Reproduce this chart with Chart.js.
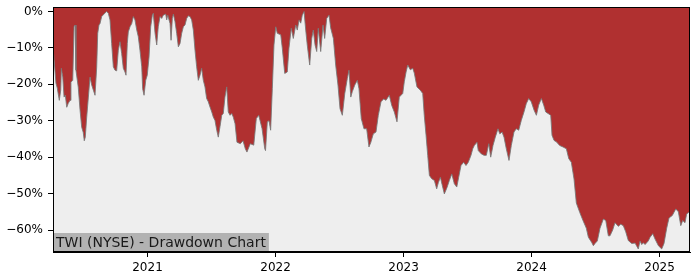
<!DOCTYPE html>
<html>
<head>
<meta charset="utf-8">
<script src="https://cdn.jsdelivr.net/npm/chart.js@4/dist/chart.umd.min.js"></script>
<style>
  html, body { margin: 0; padding: 0; background: #ffffff; }
  #wrap { width: 700px; height: 280px; position: relative; }
</style>
</head>
<body>
<div id="wrap"><canvas id="c" width="700" height="280"></canvas></div>
<script>
// Time axis as decimal years
const dates = [
2020.266,2020.285,2020.295,2020.311,2020.322,2020.327,2020.338,2020.348,2020.358,2020.369,
2020.381,2020.395,2020.402,2020.416,2020.426,2020.434,2020.441,2020.459,2020.473,2020.486,
2020.498,2020.506,2020.514,2020.525,2020.538,2020.551,2020.564,2020.577,2020.590,2020.603,
2020.611,2020.621,2020.629,2020.642,2020.660,2020.681,2020.694,2020.707,2020.720,2020.733,
2020.746,2020.759,2020.772,2020.785,2020.798,2020.811,2020.824,2020.832,2020.842,2020.850,
2020.863,2020.877,2020.889,2020.902,2020.916,2020.928,2020.941,2020.955,2020.962,2020.973,
2020.986,2020.998,2021.012,2021.025,2021.038,2021.045,2021.059,2021.072,2021.084,2021.098,
2021.111,2021.123,2021.142,2021.150,2021.158,2021.176,2021.184,2021.194,2021.202,2021.215,
2021.228,2021.241,2021.254,2021.267,2021.280,2021.293,2021.306,2021.319,2021.332,2021.345,
2021.358,2021.371,2021.384,2021.397,2021.410,2021.423,2021.436,2021.449,2021.462,2021.475,
2021.488,2021.502,2021.514,2021.527,2021.541,2021.553,2021.566,2021.580,2021.592,2021.605,
2021.619,2021.631,2021.645,2021.658,2021.670,2021.684,2021.699,2021.725,2021.746,2021.764,
2021.777,2021.803,2021.830,2021.850,2021.869,2021.895,2021.916,2021.922,2021.936,2021.949,
2021.962,2021.975,2021.988,2022.002,2022.014,2022.041,2022.053,2022.072,2022.092,2022.105,
2022.123,2022.139,2022.158,2022.170,2022.184,2022.197,2022.209,2022.223,2022.236,2022.248,
2022.267,2022.283,2022.295,2022.309,2022.322,2022.334,2022.353,2022.371,2022.384,2022.400,
2022.418,2022.431,2022.452,2022.470,2022.488,2022.504,2022.522,2022.541,2022.561,2022.574,
2022.588,2022.600,2022.619,2022.639,2022.652,2022.670,2022.691,2022.712,2022.730,2022.744,
2022.764,2022.785,2022.803,2022.824,2022.845,2022.863,2022.889,2022.908,2022.928,2022.949,
2022.967,2022.994,2023.006,2023.020,2023.033,2023.053,2023.072,2023.084,2023.105,2023.131,
2023.150,2023.162,2023.176,2023.189,2023.202,2023.220,2023.241,2023.259,2023.272,2023.288,
2023.301,2023.319,2023.340,2023.358,2023.377,2023.397,2023.416,2023.431,2023.449,2023.470,
2023.488,2023.506,2023.527,2023.541,2023.553,2023.574,2023.584,2023.608,2023.629,2023.647,
2023.666,2023.681,2023.699,2023.717,2023.738,2023.752,2023.770,2023.785,2023.803,2023.824,
2023.842,2023.863,2023.881,2023.900,2023.920,2023.941,2023.959,2023.978,2023.998,2024.020,
2024.038,2024.056,2024.077,2024.095,2024.111,2024.129,2024.150,2024.160,2024.176,2024.194,
2024.220,2024.246,2024.272,2024.291,2024.311,2024.332,2024.350,2024.377,2024.402,2024.428,
2024.444,2024.470,2024.483,2024.496,2024.514,2024.535,2024.561,2024.580,2024.600,2024.613,
2024.634,2024.652,2024.678,2024.697,2024.717,2024.736,2024.756,2024.783,2024.809,2024.834,
2024.848,2024.861,2024.873,2024.887,2024.912,2024.926,2024.947,2024.965,2024.991,2025.017,
2025.035,2025.056,2025.074,2025.100,2025.127,2025.147,2025.166,2025.181,2025.199,2025.212,
2025.234
];
// Drawdown in percent
const drawdown = [
-11.5,-19.7,-21.0,-24.4,-21.6,-15.6,-18.0,-23.5,-23.0,-26.3,
-25.2,-24.4,-19.4,-18.9,-4.2,-3.7,-16.1,-20.8,-27.1,-31.8,
-33.2,-35.5,-34.5,-29.0,-23.5,-18.0,-20.2,-21.6,-23.0,-15.3,
-6.0,-3.7,-3.3,-1.4,-0.7,0.0,-0.5,-2.3,-8.8,-15.2,
-16.1,-16.3,-10.6,-8.3,-11.5,-15.6,-16.6,-17.5,-8.8,-5.6,
-4.2,-3.3,-1.4,-2.3,-5.1,-6.9,-10.6,-15.2,-21.2,-23.0,
-18.9,-17.5,-12.5,-4.2,-1.0,-0.5,-6.0,-9.2,-4.2,-1.4,
-1.9,-1.0,-0.7,-2.3,-1.0,-3.3,-7.9,-1.9,-0.7,-2.8,
-6.0,-9.7,-8.8,-6.0,-4.2,-3.7,-1.9,-1.2,-1.4,-2.3,
-5.1,-10.6,-15.2,-18.9,-17.5,-15.6,-18.9,-20.7,-23.9,-24.8,
-26.2,-27.6,-29.0,-29.9,-32.6,-34.5,-31.7,-28.5,-28.0,-23.5,
-20.7,-27.6,-28.5,-28.0,-29.0,-30.8,-35.9,-36.3,-35.5,-37.7,
-38.6,-36.3,-36.7,-29.4,-28.5,-32.2,-37.7,-38.2,-30.3,-30.0,
-32.6,-21.2,-9.2,-4.2,-6.0,-6.4,-10.1,-17.0,-16.6,-10.1,
-4.6,-7.4,-3.7,-5.1,-2.3,-3.2,-1.0,0.0,-5.1,-9.2,
-14.7,-7.4,-5.1,-9.2,-11.0,-4.6,-11.0,-3.7,-7.4,-1.9,
-1.0,-4.5,-7.4,-14.7,-20.2,-26.7,-28.5,-22.5,-18.4,-16.1,
-23.5,-22.0,-20.2,-18.9,-21.2,-29.4,-32.2,-32.2,-37.2,-36.0,
-33.6,-33.1,-28.5,-24.8,-24.0,-24.4,-23.0,-25.8,-27.6,-30.3,
-23.5,-22.5,-19.3,-16.6,-14.7,-16.0,-15.6,-16.9,-20.7,-21.6,
-22.5,-28.5,-34.0,-39.5,-45.0,-45.9,-46.4,-48.7,-47.0,-45.5,
-47.5,-50.1,-48.3,-46.4,-44.6,-47.3,-48.2,-45.5,-42.3,-41.4,
-42.3,-41.4,-39.5,-37.7,-36.8,-35.9,-38.2,-39.1,-39.5,-39.5,
-36.3,-40.0,-36.8,-34.5,-32.2,-33.6,-33.1,-34.5,-37.7,-40.9,
-36.8,-33.1,-32.2,-32.6,-29.9,-27.6,-25.3,-23.9,-24.8,-27.1,
-28.5,-25.7,-23.9,-25.7,-27.6,-28.0,-28.5,-34.0,-35.4,-35.8,
-36.8,-37.2,-37.7,-40.4,-41.4,-46.0,-52.6,-55.2,-57.4,-59.5,
-62.0,-63.4,-64.3,-63.7,-63.0,-59.5,-57.0,-57.4,-61.6,-61.6,
-60.0,-58.0,-59.0,-58.4,-58.8,-60.5,-62.9,-63.7,-63.6,-65.2,
-63.0,-64.0,-63.5,-64.0,-63.0,-62.0,-61.0,-62.5,-64.3,-65.2,
-63.7,-59.5,-56.7,-56.0,-54.2,-55.0,-58.8,-57.4,-58.0,-55.6,
-55.0
];
const yearTicks = [2021, 2022, 2023, 2024, 2025];
const pctTicks = [-60, -50, -40, -30, -20, -10, 0];
const chartLabel = 'TWI (NYSE) - Drawdown Chart';

const points = dates.map((d, i) => ({ x: d, y: drawdown[i] }));
const FONT = 'DejaVu Sans';

const bgPlugin = {
  id: 'bg',
  beforeDraw(chart) {
    const a = chart.chartArea, ctx = chart.ctx;
    ctx.save();
    ctx.fillStyle = '#b03030';
    ctx.fillRect(a.left, a.top, a.right - a.left, a.bottom - a.top);
    ctx.restore();
  },
  afterDraw(chart) {
    const a = chart.chartArea, ctx = chart.ctx;
    ctx.save();
    // label box
    ctx.font = '14px "' + FONT + '"';
    const w = ctx.measureText(chartLabel).width;
    ctx.fillStyle = '#b2b2b2';
    ctx.fillRect(a.left, a.bottom - 19, w + 6, 19);
    ctx.fillStyle = '#1a1a1a';
    ctx.textBaseline = 'alphabetic';
    ctx.textAlign = 'left';
    ctx.fillText(chartLabel, a.left + 3, a.bottom - 5);
    // spines
    ctx.strokeStyle = '#000';
    ctx.lineWidth = 1;
    ctx.strokeRect(Math.round(a.left) + 0.5, Math.round(a.top) + 0.5,
                   Math.round(a.right - a.left) - 1, Math.round(a.bottom - a.top) - 1);
    ctx.restore();
  }
};

new Chart(document.getElementById('c'), {
  type: 'line',
  data: {
    datasets: [{
      data: points,
      parsing: false,
      fill: 'start',
      backgroundColor: '#eeeeee',
      borderColor: 'rgba(120,120,120,0.85)',
      borderWidth: 1,
      pointRadius: 0,
      tension: 0
    }]
  },
  options: {
    responsive: false,
    animation: false,
    layout: { padding: { top: 7, right: 10, left: 0, bottom: 0 } },
    plugins: { legend: { display: false }, tooltip: { enabled: false }, title: { display: false } },
    scales: {
      x: {
        type: 'linear',
        min: 2020.2617,
        max: 2025.238,
        afterBuildTicks(scale) { scale.ticks = yearTicks.map(v => ({ value: v })); },
        afterFit(scale) { scale.height = 28; scale.paddingLeft = 0; scale.paddingRight = 0; },
        grid: { display: true, drawOnChartArea: false, drawTicks: true, tickLength: 5, color: '#000' },
        border: { display: true, color: '#000', width: 1 },
        ticks: {
          autoSkip: false, maxRotation: 0, padding: 4,
          color: '#000', font: { family: FONT, size: 12 },
          callback: v => String(v)
        }
      },
      y: {
        type: 'linear',
        min: -66.04,
        max: 1.236,
        afterBuildTicks(scale) { scale.ticks = pctTicks.map(v => ({ value: v })); },
        afterFit(scale) { scale.width = 53; scale.paddingTop = 0; scale.paddingBottom = 0; },
        grid: { display: true, drawOnChartArea: false, drawTicks: true, tickLength: 5, color: '#000' },
        border: { display: true, color: '#000', width: 1 },
        ticks: {
          autoSkip: false, padding: 5,
          color: '#000', font: { family: FONT, size: 12 },
          callback: v => (v < 0 ? '\u2212' + Math.abs(v) : String(v)) + '%'
        }
      }
    }
  },
  plugins: [bgPlugin]
});
</script>
</body>
</html>
